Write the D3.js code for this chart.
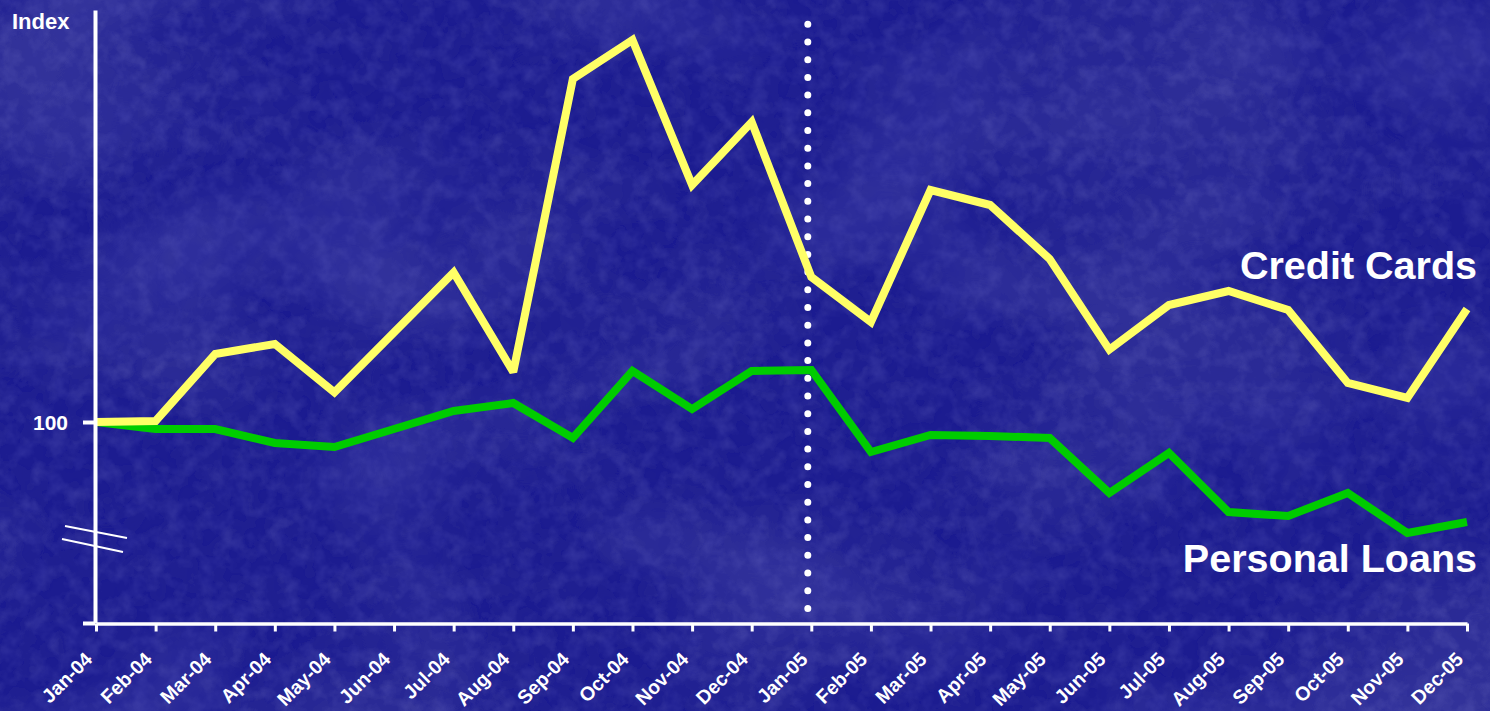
<!DOCTYPE html>
<html>
<head>
<meta charset="utf-8">
<script src="https://cdn.jsdelivr.net/npm/d3@7"></script>
<style>
  html, body { margin: 0; padding: 0; background: #1b1b90; }
  svg { display: block; }
  text { font-family: "Liberation Sans", Arial, sans-serif; font-weight: bold; fill: #ffffff; }
</style>
</head>
<body>
<svg id="chart" width="1490" height="711"></svg>
<script>
// Monthly index, Jan-04 = 100
const months = ["Jan-04","Feb-04","Mar-04","Apr-04","May-04","Jun-04","Jul-04","Aug-04","Sep-04","Oct-04","Nov-04","Dec-04",
                "Jan-05","Feb-05","Mar-05","Apr-05","May-05","Jun-05","Jul-05","Aug-05","Sep-05","Oct-05","Nov-05","Dec-05"];
const creditCards = [100, 100.25, 117, 119.5, 107.4, 122.4, 137.4, 112.5, 185.75, 195.5, 159.25, 175,
                     136.25, 125, 158, 154.25, 140.75, 118.1, 129.25, 132.75, 128, 109.75, 106, 128.25];
const personalLoans = [100, 98.25, 98.25, 94.75, 93.75, 98.25, 102.75, 104.75, 96, 112.75, 103.25, 112.75,
                       113, 92.5, 96.75, 96.5, 96, 82.25, 92.25, 77.5, 76.5, 82.25, 72.25, 75];
const yTickValues = [49.75, 100];
const yTickLabels = ["", "100"];
const seriesNames = ["Credit Cards", "Personal Loans"];
const dividerMonth = "Jan-05";

const svg = d3.select("#chart");
const W = 1490, H = 711;

// mottled dark-blue backdrop
const defs = svg.append("defs");
const f = defs.append("filter").attr("id", "tex")
  .attr("x", 0).attr("y", 0).attr("width", W).attr("height", H)
  .attr("filterUnits", "userSpaceOnUse");
f.append("feTurbulence").attr("type", "fractalNoise").attr("baseFrequency", "0.003 0.005")
  .attr("numOctaves", 3).attr("seed", 4).attr("result", "big");
f.append("feColorMatrix").attr("in", "big").attr("type", "matrix")
  .attr("values", "0 0 0 0 0.04  0 0 0 0 0.04  0 0 0 0 0.33  1.6 0 0 0 -0.72").attr("result", "bigc");
f.append("feTurbulence").attr("type", "fractalNoise").attr("baseFrequency", "0.004 0.006")
  .attr("numOctaves", 2).attr("seed", 11).attr("result", "big2");
f.append("feColorMatrix").attr("in", "big2").attr("type", "matrix")
  .attr("values", "0 0 0 0 0.17  0 0 0 0 0.17  0 0 0 0 0.6  0.7 0 0 0 -0.36").attr("result", "big2c");
f.append("feTurbulence").attr("type", "fractalNoise").attr("baseFrequency", "0.06")
  .attr("numOctaves", 3).attr("seed", 7).attr("result", "fine");
f.append("feColorMatrix").attr("in", "fine").attr("type", "matrix")
  .attr("values", "0 0 0 0 0.2  0 0 0 0 0.2  0 0 0 0 0.65  0.4 0 0 0 -0.17").attr("result", "finec");
f.append("feTurbulence").attr("type", "fractalNoise").attr("baseFrequency", "0.045")
  .attr("numOctaves", 2).attr("seed", 19).attr("result", "fine2");
f.append("feColorMatrix").attr("in", "fine2").attr("type", "matrix")
  .attr("values", "0 0 0 0 0.03  0 0 0 0 0.03  0 0 0 0 0.3  0.6 0 0 0 -0.22").attr("result", "fine2c");
const m = f.append("feMerge");
["big2c", "bigc", "fine2c", "finec"].forEach(r => m.append("feMergeNode").attr("in", r));

svg.append("rect").attr("width", W).attr("height", H).attr("fill", "#1c1c90");
svg.append("rect").attr("width", W).attr("height", H).attr("filter", "url(#tex)");

// scales
const x = d3.scalePoint().domain(months).range([96, 1467]);
const y = d3.scaleLinear().domain([49.75, 203]).range([623, 10]);

// dotted divider at the start of 2005
svg.append("line")
  .attr("x1", x(dividerMonth) - 3.5).attr("x2", x(dividerMonth) - 3.5)
  .attr("y1", 24.3).attr("y2", 609)
  .attr("stroke", "#ffffff").attr("stroke-width", 7)
  .attr("stroke-linecap", "round").attr("stroke-dasharray", "0 17.7");

// series lines
const line = d3.line().x((d, i) => x(months[i])).y(d => y(d));
svg.append("path").datum(personalLoans)
  .attr("d", line).attr("fill", "none")
  .attr("stroke", "#00cc00").attr("stroke-width", 8)
  .attr("stroke-linejoin", "miter").attr("stroke-miterlimit", 2.5);
svg.append("path").datum(creditCards)
  .attr("d", line).attr("fill", "none")
  .attr("stroke", "#ffff66").attr("stroke-width", 8)
  .attr("stroke-linejoin", "miter").attr("stroke-miterlimit", 2.5);

// y axis
const yAxis = d3.axisLeft(y).tickValues(yTickValues)
  .tickFormat((d, i) => yTickLabels[i]).tickSize(12).tickSizeOuter(0).tickPadding(15);
const gy = svg.append("g").attr("transform", "translate(95,0)").call(yAxis);
gy.select(".domain").attr("stroke", "#ffffff").attr("stroke-width", 4);
gy.selectAll(".tick line").attr("stroke", "#ffffff").attr("stroke-width", 4);
gy.selectAll(".tick text").attr("font-size", 21).attr("dy", "0.36em")
  .style("font-family", "'Liberation Sans', Arial, sans-serif").style("font-weight", "bold").attr("fill", "#fff");

// axis break marks
const brk = svg.append("g").attr("stroke", "#ffffff").attr("stroke-width", 2);
brk.append("line").attr("x1", 65).attr("y1", 526).attr("x2", 127).attr("y2", 538);
brk.append("line").attr("x1", 62).attr("y1", 539).attr("x2", 123).attr("y2", 552);

// x axis
const xAxis = d3.axisBottom(x).tickSize(8).tickSizeOuter(0);
const gx = svg.append("g").attr("transform", "translate(0,623.5)").call(xAxis);
gx.select(".domain").attr("stroke", "#ffffff").attr("stroke-width", 3.5);
gx.selectAll(".tick line").attr("stroke", "#ffffff").attr("stroke-width", 3);
gx.selectAll(".tick text")
  .attr("y", null).attr("dy", null)
  .attr("text-anchor", "end")
  .attr("transform", "translate(-3,37) rotate(-45)")
  .attr("font-size", 19.5)
  .style("font-family", "'Liberation Sans', Arial, sans-serif").style("font-weight", "bold").attr("fill", "#fff");

// titles and series labels
svg.append("text").attr("x", 12).attr("y", 29).attr("font-size", 22).text("Index");
svg.append("text").attr("x", 1477).attr("y", 279).attr("text-anchor", "end")
  .attr("font-size", 39.5).text(seriesNames[0]);
svg.append("text").attr("x", 1477).attr("y", 572).attr("text-anchor", "end")
  .attr("font-size", 39.5).text(seriesNames[1]);
</script>
</body>
</html>
